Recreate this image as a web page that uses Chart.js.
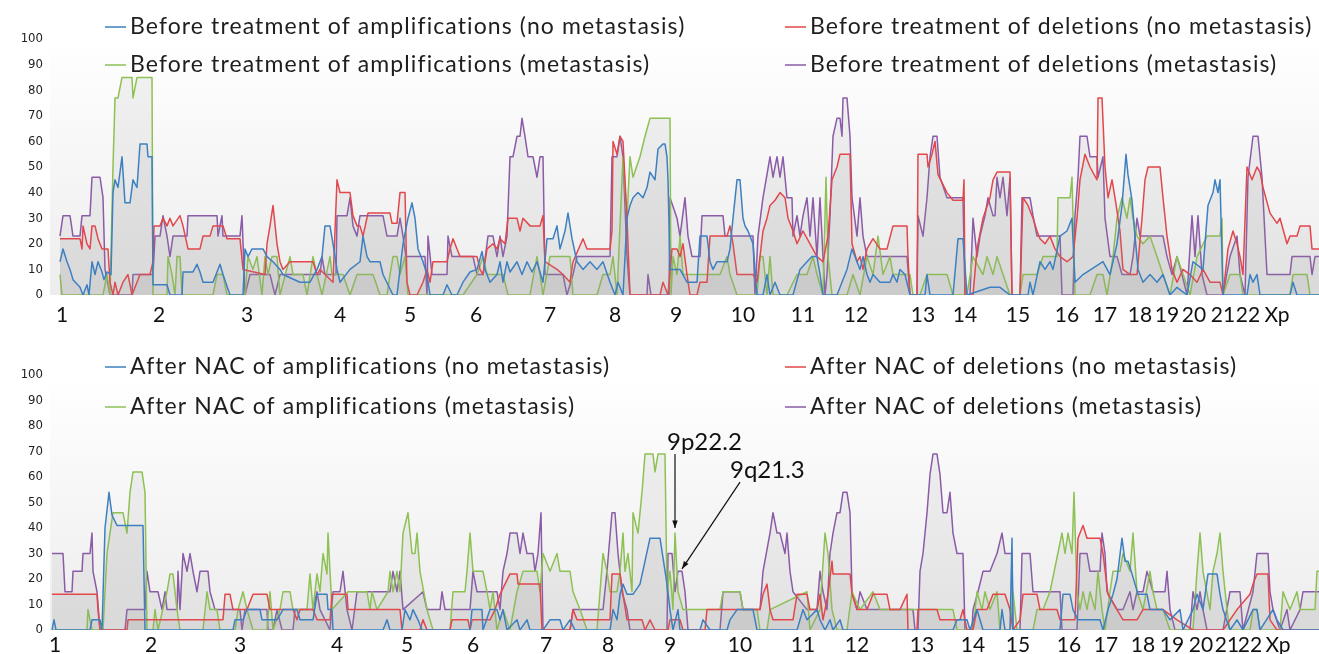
<!DOCTYPE html>
<html>
<head>
<meta charset="utf-8">
<script src="https://cdn.jsdelivr.net/npm/chart.js@4.4.0/dist/chart.umd.min.js"></script>
<style>
  body { margin: 0; width: 1319px; height: 654px; overflow: hidden; background: #fff; }
  .panel { position: absolute; left: 0; width: 1319px; }
</style>
</head>
<body>
<div class="panel" style="top:0;height:327px"><canvas id="before" width="1319" height="327"></canvas></div>
<div class="panel" style="top:327px;height:340px"><canvas id="after" width="1319" height="340"></canvas></div>
<script>
// chromosome labels and where they sit along the genome axis
const chromLabels = ['1','2','3','4','5','6','7','8','9','10','11','12','13','14','15','16','17','18','19','20','21','22','Xp'];
const chromPosBefore = [2,99,187,280,350,416,490,555,616,683,743,796,863,905,958,1007,1045,1080,1107,1134,1163,1188,1217];
const chromPosAfter = [-5,91,180,277,347,413,486,548,610,680,743,797,862,913,958,1009,1046,1083,1112,1141,1167,1190,1218];

const yTicks = [0,10,20,30,40,50,60,70,80,90,100];

// frequency (%) along the genome: [position, value]
const beforeAmpNoMet = [[0,13],[3,18],[7,13],[10,10],[13,6],[20,3],[23,0],[27,4],[29,0],[32,13],[35,8],[38,13],[42,9],[44,6],[47,9],[51,8],[53,40],[55,45],[58,42],[62,54],[65,36],[70,36],[73,45],[77,42],[80,59],[87,59],[88,54],[92,54],[93,4],[107,4],[110,0],[122,0],[123,9],[133,9],[137,12],[140,9],[143,5],[153,5],[157,9],[160,12],[163,8],[170,0],[183,0],[185,18],[188,15],[192,18],[203,18],[207,15],[213,13],[220,10],[223,8],[240,5],[250,5],[257,10],[262,15],[265,27],[270,27],[273,20],[277,10],[280,5],[290,10],[300,13],[303,23],[307,15],[310,13],[320,13],[323,8],[333,0],[337,0],[343,20],[348,30],[352,36],[355,30],[358,18],[363,13],[367,8],[370,0],[383,0],[387,4],[392,0],[397,0],[403,5],[410,9],[417,10],[422,17],[425,10],[430,5],[437,8],[440,13],[443,5],[447,13],[450,9],[457,13],[462,8],[467,13],[472,9],[477,13],[483,5],[487,22],[493,22],[497,27],[500,18],[505,25],[508,32],[512,22],[517,13],[523,10],[530,13],[537,10],[543,13],[550,5],[555,0],[558,5],[563,0],[567,30],[570,35],[573,38],[578,40],[583,38],[587,42],[590,48],[595,45],[598,57],[603,59],[605,59],[607,54],[608,45],[610,10],[620,10],[627,5],[637,5],[640,23],[647,23],[650,13],[653,10],[657,13],[667,13],[670,18],[673,30],[677,45],[680,45],[683,30],[685,27],[688,25],[693,20],[697,0],[703,0],[707,8],[710,0],[715,5],[720,0],[733,0],[740,10],[747,13],[752,15],[757,15],[760,8],[763,0],[777,0],[782,5],[787,10],[792,18],[795,15],[800,10],[803,15],[807,8],[810,5],[813,8],[820,5],[830,5],[833,8],[837,5],[840,10],[845,8],[850,0],[865,0],[867,8],[870,0],[893,0],[898,22],[903,22],[907,0],[930,3],[940,3],[950,0],[968,0],[970,5],[973,0],[980,13],[985,10],[990,13],[993,10],[1000,23],[1007,25],[1012,30],[1015,5],[1023,8],[1043,13],[1050,8],[1057,20],[1062,35],[1066,55],[1068,47],[1072,37],[1075,23],[1078,10],[1083,5],[1090,8],[1097,5],[1103,8],[1110,0],[1117,3],[1127,0],[1133,13],[1143,10],[1148,35],[1153,40],[1155,45],[1158,40],[1160,45],[1163,0],[1187,0],[1190,8],[1193,5],[1197,8],[1200,0],[1230,0],[1233,5],[1237,0],[1259,0]];

const beforeDelNoMet = [[0,22],[20,22],[22,18],[23,27],[27,20],[30,18],[32,27],[35,27],[38,22],[42,18],[48,18],[50,5],[53,0],[55,5],[58,0],[63,5],[68,8],[72,0],[77,5],[80,8],[90,8],[93,13],[94,27],[100,27],[103,30],[107,27],[110,30],[113,27],[120,31],[123,27],[128,18],[140,18],[143,23],[150,23],[153,27],[163,27],[167,22],[180,22],[183,10],[205,8],[207,20],[210,27],[213,35],[217,20],[220,13],[223,10],[230,13],[253,13],[257,8],[260,10],[265,8],[273,5],[277,45],[280,40],[290,40],[293,31],[297,27],[300,27],[303,23],[308,32],[330,32],[332,28],[337,28],[340,40],[345,40],[347,5],[350,0],[357,0],[363,5],[367,10],[370,5],[373,13],[387,13],[390,18],[393,22],[397,18],[400,15],[417,15],[420,10],[423,8],[427,18],[433,20],[437,18],[440,22],[445,20],[448,30],[457,30],[460,25],[463,30],[470,27],[480,27],[483,31],[485,13],[497,10],[503,8],[510,5],[513,13],[523,22],[527,18],[550,18],[552,25],[553,60],[557,55],[560,62],[563,60],[567,30],[570,0],[600,0],[603,5],[608,0],[612,18],[617,18],[620,15],[623,20],[627,8],[630,0],[637,0],[640,5],[647,5],[650,23],[667,23],[670,27],[673,20],[677,8],[693,8],[697,5],[703,25],[707,30],[710,35],[715,37],[720,40],[725,38],[728,30],[733,25],[737,20],[743,25],[750,20],[757,15],[763,13],[768,23],[772,45],[777,50],[780,55],[790,55],[792,20],[797,13],[800,15],[803,10],[807,18],[813,22],[820,18],[827,18],[833,27],[847,27],[848,15],[850,0],[857,0],[858,55],[867,55],[868,50],[872,55],[875,60],[878,47],[887,40],[893,37],[903,37],[904,45],[905,0],[913,0],[917,18],[923,30],[930,38],[933,45],[937,48],[950,48],[952,0],[960,0],[963,38],[968,35],[973,30],[977,25],[980,22],[985,20],[990,23],[995,18],[1000,15],[1007,13],[1013,15],[1017,30],[1020,45],[1025,55],[1030,50],[1037,45],[1038,77],[1042,77],[1045,50],[1048,38],[1052,45],[1055,38],[1060,25],[1063,10],[1070,8],[1077,8],[1082,30],[1085,45],[1088,50],[1100,50],[1103,38],[1107,23],[1112,10],[1117,5],[1123,10],[1130,8],[1137,5],[1143,10],[1150,5],[1160,5],[1163,0],[1168,18],[1173,25],[1177,20],[1180,15],[1183,8],[1187,50],[1192,45],[1197,50],[1200,48],[1203,42],[1210,32],[1217,28],[1220,30],[1227,20],[1230,23],[1237,23],[1240,27],[1250,27],[1252,18],[1259,18]];

const beforeAmpMet = [[0,8],[2,0],[43,0],[47,8],[50,0],[53,50],[55,77],[58,77],[62,85],[72,85],[73,77],[77,85],[92,85],[93,0],[107,0],[108,15],[112,8],[115,0],[117,15],[120,15],[122,0],[153,0],[157,8],[163,8],[167,0],[185,0],[188,15],[193,10],[197,15],[202,0],[205,15],[208,8],[212,15],[217,15],[220,0],[230,15],[233,8],[243,8],[247,0],[253,15],[257,8],[262,0],[270,15],[272,8],[283,8],[290,0],[297,8],[313,8],[320,0],[327,0],[330,8],[333,15],[337,15],[340,8],[345,15],[348,0],[403,0],[417,8],[423,15],[427,8],[443,8],[448,0],[470,0],[477,15],[480,8],[483,0],[490,15],[510,15],[513,0],[537,0],[543,8],[550,8],[553,15],[557,0],[563,54],[567,30],[570,54],[573,46],[580,54],[585,62],[590,69],[610,69],[611,0],[613,15],[617,8],[620,23],[623,8],[660,8],[667,15],[670,8],[677,0],[697,0],[700,15],[703,15],[707,0],[710,15],[713,0],[727,0],[737,8],[747,8],[753,15],[757,8],[763,0],[766,46],[768,15],[772,0],[787,0],[793,8],[800,0],[807,15],[813,8],[818,23],[823,8],[830,15],[833,8],[850,8],[853,0],[860,0],[867,8],[887,8],[893,0],[907,0],[913,15],[923,8],[927,15],[933,8],[937,15],[943,8],[950,0],[960,0],[963,8],[977,8],[983,15],[997,15],[998,38],[1010,38],[1012,46],[1015,0],[1030,0],[1037,8],[1043,8],[1047,0],[1053,15],[1057,30],[1062,38],[1067,30],[1070,38],[1073,30],[1077,23],[1083,20],[1090,23],[1097,15],[1103,8],[1110,0],[1117,15],[1130,0],[1137,15],[1147,23],[1160,23],[1162,30],[1163,0],[1170,8],[1180,8],[1183,0],[1230,0],[1233,8],[1247,8],[1250,0],[1259,0]];

const beforeDelMet = [[0,23],[3,31],[10,31],[13,23],[20,23],[22,31],[30,31],[32,46],[40,46],[43,38],[45,10],[50,0],[72,0],[73,8],[93,8],[95,23],[100,23],[103,31],[107,23],[110,15],[113,23],[127,23],[128,31],[157,31],[158,23],[162,31],[163,23],[180,23],[182,31],[185,0],[190,8],[210,8],[215,0],[220,8],[260,8],[262,15],[265,8],[276,8],[277,31],[287,31],[290,38],[293,27],[297,23],[300,31],[323,31],[327,23],[337,23],[340,30],[343,23],[346,15],[365,15],[367,0],[368,23],[372,8],[387,8],[388,23],[392,15],[413,15],[417,8],[423,8],[428,23],[433,23],[437,15],[440,23],[443,15],[447,23],[450,54],[453,54],[457,62],[460,62],[462,69],[465,62],[468,54],[473,54],[477,46],[480,54],[483,54],[485,8],[503,8],[507,0],[513,8],[517,15],[550,15],[552,54],[557,54],[560,62],[563,54],[567,15],[570,0],[587,0],[588,8],[591,0],[609,0],[610,38],[617,30],[620,23],[625,38],[628,23],[632,15],[640,15],[642,31],[663,31],[665,23],[693,23],[695,0],[698,23],[703,38],[710,54],[713,46],[717,54],[720,46],[723,54],[725,46],[727,38],[732,38],[733,23],[737,31],[740,23],[743,31],[747,38],[750,23],[753,38],[757,15],[760,38],[765,0],[767,8],[770,31],[773,62],[777,69],[780,69],[782,62],[783,77],[787,77],[790,62],[792,38],[797,23],[800,38],[803,23],[807,15],[847,15],[850,0],[857,0],[858,31],[863,23],[867,38],[870,54],[873,62],[877,62],[880,46],[887,38],[903,38],[905,0],[910,0],[913,30],[917,15],[920,23],[925,31],[928,38],[933,31],[935,31],[937,46],[940,38],[943,46],[947,31],[950,46],[952,0],[960,0],[962,38],[970,38],[973,31],[977,23],[1000,23],[1002,0],[1013,0],[1015,31],[1018,46],[1020,62],[1027,62],[1030,54],[1037,54],[1038,46],[1043,54],[1045,30],[1050,15],[1057,15],[1062,8],[1070,8],[1073,15],[1077,30],[1080,23],[1103,23],[1107,15],[1112,8],[1117,15],[1122,8],[1127,0],[1132,31],[1135,15],[1138,31],[1142,8],[1147,0],[1163,0],[1170,15],[1177,23],[1180,8],[1185,0],[1188,46],[1193,62],[1198,62],[1202,46],[1205,23],[1207,8],[1230,8],[1232,15],[1250,15],[1252,8],[1255,15],[1259,15]];

const afterAmpNoMet = [[-8,0],[-6,4],[-4,0],[30,0],[32,4],[40,4],[42,0],[45,40],[49,54],[52,45],[57,41],[83,41],[85,0],[173,0],[175,4],[183,4],[187,8],[200,8],[202,4],[217,4],[223,8],[237,8],[240,4],[253,4],[257,14],[267,14],[268,8],[272,8],[273,0],[323,0],[327,4],[330,0],[342,0],[345,8],[350,4],[353,8],[358,4],[362,0],[410,0],[412,8],[422,8],[423,0],[430,8],[437,8],[440,4],[443,8],[447,0],[457,4],[460,0],[467,4],[470,0],[483,0],[490,4],[500,4],[503,0],[510,4],[515,0],[550,0],[553,8],[557,4],[560,14],[563,18],[567,14],[573,14],[580,18],[585,27],[590,36],[600,36],[607,18],[610,8],[613,0],[618,8],[620,0],[640,0],[643,4],[650,0],[667,0],[670,4],[677,8],[693,8],[697,0],[737,0],[743,8],[747,4],[757,8],[760,4],[765,0],[770,4],[773,0],[780,4],[783,0],[893,0],[897,4],[907,4],[910,0],[917,8],[920,4],[923,0],[940,0],[942,8],[945,0],[950,0],[952,36],[953,0],[1000,0],[1003,14],[1010,14],[1013,8],[1018,4],[1040,4],[1043,0],[1048,8],[1053,14],[1057,20],[1062,36],[1065,27],[1068,27],[1072,22],[1075,18],[1078,14],[1087,14],[1090,8],[1103,8],[1110,4],[1120,8],[1123,0],[1133,8],[1137,14],[1143,8],[1148,22],[1157,22],[1160,14],[1163,8],[1170,0],[1177,4],[1183,0],[1193,8],[1197,8],[1200,0],[1213,8],[1217,4],[1223,0],[1259,0]];

const afterDelNoMet = [[-8,14],[37,14],[38,8],[40,0],[67,0],[68,4],[163,4],[165,14],[170,14],[173,8],[187,8],[193,14],[207,14],[210,8],[233,8],[237,4],[240,8],[253,8],[257,4],[270,4],[272,14],[287,14],[288,8],[340,8],[342,0],[360,0],[363,4],[367,0],[390,0],[392,4],[408,4],[410,0],[412,4],[430,4],[435,8],[440,14],[445,18],[450,22],[457,22],[458,18],[480,18],[482,0],[510,0],[513,8],[517,4],[550,4],[552,22],[560,22],[563,14],[567,4],[582,4],[585,0],[590,4],[595,0],[608,0],[610,4],[620,4],[623,0],[645,0],[647,8],[700,8],[703,14],[707,18],[710,8],[713,4],[733,4],[737,14],[747,14],[750,8],[757,8],[760,14],[763,4],[768,14],[772,27],[773,22],[790,22],[792,14],[797,8],[807,8],[813,14],[827,14],[830,8],[840,8],[847,14],[848,0],[857,0],[858,8],[877,8],[880,4],[900,4],[903,8],[907,0],[913,0],[917,8],[927,8],[933,14],[945,14],[950,8],[953,0],[960,4],[963,14],[977,14],[980,8],[997,8],[1000,4],[1015,4],[1018,36],[1023,41],[1027,36],[1040,36],[1043,30],[1048,14],[1057,8],[1063,4],[1077,4],[1083,8],[1103,8],[1117,4],[1133,0],[1163,0],[1177,8],[1190,14],[1193,18],[1197,22],[1208,22],[1210,4],[1217,0],[1259,0]];

const afterAmpMet = [[-8,0],[27,0],[28,8],[32,0],[43,0],[47,30],[50,38],[53,46],[63,46],[67,38],[70,54],[73,62],[82,62],[85,54],[87,0],[93,0],[95,8],[98,0],[107,15],[110,22],[113,22],[117,8],[120,0],[143,0],[147,15],[150,8],[157,8],[160,0],[175,0],[178,8],[183,15],[187,8],[193,0],[207,0],[210,15],[213,0],[220,8],[223,15],[230,15],[233,8],[247,8],[250,22],[253,8],[257,22],[260,15],[263,30],[267,22],[268,38],[272,8],[288,15],[307,15],[310,8],[312,15],[317,8],[328,15],[330,23],[333,15],[337,23],[340,15],[343,38],[348,46],[352,30],[355,30],[357,38],[360,23],[367,8],[373,0],[390,0],[393,15],[405,15],[407,23],[410,38],[413,23],[423,23],[427,15],[430,8],[433,15],[437,0],[443,8],[450,0],[457,15],[463,23],[477,23],[480,15],[483,30],[490,23],[497,30],[500,23],[510,23],[513,15],[520,8],[527,0],[537,0],[543,30],[547,23],[550,15],[557,15],[560,23],[563,38],[565,23],[568,30],[572,15],[573,46],[578,38],[582,54],[585,69],[593,69],[595,62],[598,69],[605,69],[607,15],[610,23],[613,8],[615,38],[618,15],[623,8],[660,8],[663,15],[680,15],[683,8],[697,8],[700,0],[707,0],[710,8],[747,15],[750,0],[760,8],[765,38],[768,30],[772,8],[777,0],[787,0],[792,15],[800,8],[813,15],[820,8],[893,8],[897,0],[913,0],[917,15],[922,8],[925,15],[930,8],[937,15],[940,0],[950,0],[953,15],[957,0],[973,0],[977,8],[983,8],[990,15],[1002,38],[1005,30],[1008,38],[1012,30],[1014,54],[1017,15],[1020,8],[1023,15],[1027,8],[1030,15],[1035,8],[1038,23],[1042,8],[1045,0],[1050,15],[1053,23],[1060,23],[1063,30],[1070,23],[1073,38],[1077,15],[1083,8],[1090,23],[1093,15],[1097,8],[1103,8],[1110,0],[1133,0],[1137,23],[1140,38],[1143,23],[1150,8],[1153,23],[1157,30],[1160,38],[1163,23],[1167,8],[1170,0],[1190,0],[1193,8],[1197,8],[1200,0],[1220,0],[1223,15],[1230,8],[1237,15],[1240,8],[1255,8],[1257,23],[1259,23]];

const afterDelMet = [[-8,30],[3,30],[5,15],[12,15],[13,23],[22,23],[23,30],[30,30],[32,38],[33,23],[37,15],[40,0],[65,0],[67,8],[85,8],[87,23],[90,15],[98,15],[102,8],[105,15],[107,8],[117,8],[118,23],[120,8],[123,30],[127,23],[130,30],[133,23],[137,15],[140,23],[148,23],[150,15],[155,8],[180,8],[182,0],[185,8],[207,8],[208,0],[213,0],[217,8],[222,0],[233,0],[235,8],[253,8],[257,15],[260,8],[270,0],[273,15],[280,15],[283,23],[287,8],[292,0],[297,15],[330,15],[333,23],[337,15],[340,23],[343,8],[363,15],[367,8],[380,8],[382,15],[385,8],[410,8],[413,23],[417,15],[437,15],[440,8],[443,23],[447,30],[450,38],[457,38],[460,30],[463,38],[467,30],[473,30],[475,23],[478,30],[481,46],[483,0],[510,0],[513,8],[543,8],[547,23],[552,46],[555,46],[558,30],[562,15],[567,8],[570,0],[607,0],[608,30],[612,30],[615,15],[618,23],[622,23],[625,15],[628,0],[660,0],[663,15],[680,15],[683,8],[700,8],[703,23],[710,38],[713,46],[717,38],[720,38],[725,30],[727,38],[730,23],[733,15],[747,8],[757,8],[760,23],[763,15],[767,8],[770,30],[773,38],[777,46],[780,46],[783,54],[787,54],[790,46],[792,15],[797,8],[800,15],[807,8],[853,8],[855,0],[858,0],[860,23],[863,30],[867,46],[870,61],[873,69],[877,69],[880,61],[883,46],[887,46],[890,54],[893,38],[897,30],[903,30],[905,0],[912,0],[913,8],[918,15],[923,23],[930,23],[937,30],[942,38],[945,30],[952,30],[953,0],[960,0],[962,30],[970,30],[973,15],[1000,15],[1002,0],[1017,0],[1020,30],[1027,30],[1030,23],[1040,23],[1042,38],[1045,30],[1047,15],[1057,8],[1063,8],[1070,15],[1073,8],[1077,15],[1083,15],[1087,23],[1093,15],[1105,15],[1107,23],[1110,8],[1115,0],[1130,0],[1133,15],[1137,8],[1140,15],[1143,8],[1147,0],[1163,0],[1170,15],[1180,15],[1183,0],[1193,15],[1197,30],[1208,30],[1210,15],[1213,8],[1220,0],[1227,8],[1230,0],[1240,8],[1243,15],[1259,15]];

const seriesColors = ['#3d80c1', '#e2474c', '#8dc153', '#8b5ba8'];

// marked cytobands on the second panel: label spot and arrow tip in data units
const bandNotes = [
    { text: '9p22.2', at: [607, 70.6], from: [615, 69], to: [615, 40] },
    { text: '9q21.3', at: [670, 59.6], from: [680, 58], to: [622, 24] }
];

const toXY = arr => arr.map(([x, y]) => ({ x, y }));

// plot-area background, light grey towards the bottom
const plotBackground = {
    id: 'plotBackground',
    beforeDraw(chart) {
        const { ctx, chartArea: a } = chart;
        const g = ctx.createLinearGradient(0, a.top, 0, a.bottom);
        g.addColorStop(0, '#ffffff');
        g.addColorStop(1, '#ededed');
        ctx.save();
        ctx.fillStyle = g;
        ctx.fillRect(a.left, a.top, a.right - a.left, a.bottom - a.top);
        ctx.restore();
    }
};

// two-column legend drawn over the top of the plot
const cornerLegend = {
    id: 'cornerLegend',
    afterDatasetsDraw(chart, args, opts) {
        const { ctx } = chart;
        ctx.save();
        ctx.font = opts.font;
        ctx.letterSpacing = opts.spacing;
        ctx.textBaseline = 'middle';
        chart.data.datasets.forEach((ds, i) => {
            const [x, y] = opts.slots[i];
            ctx.strokeStyle = ds.borderColor;
            ctx.lineWidth = 1.5;
            ctx.beginPath();
            ctx.moveTo(x, y);
            ctx.lineTo(x + 21, y);
            ctx.stroke();
            ctx.fillStyle = '#1e1e1e';
            ctx.fillText(ds.label, x + 25, y);
        });
        ctx.restore();
    }
};

// arrows pointing at cytobands
const bandArrows = {
    id: 'bandArrows',
    afterDatasetsDraw(chart, args, opts) {
        const items = opts.items || [];
        if (!items.length) return;
        const { ctx, scales: { x, y } } = chart;
        ctx.save();
        ctx.font = '24px Lato';
        ctx.fillStyle = '#111';
        ctx.strokeStyle = '#111';
        ctx.lineWidth = 1.2;
        items.forEach(n => {
            ctx.fillText(n.text, x.getPixelForValue(n.at[0]), y.getPixelForValue(n.at[1]));
            const x1 = x.getPixelForValue(n.from[0]), y1 = y.getPixelForValue(n.from[1]);
            const x2 = x.getPixelForValue(n.to[0]), y2 = y.getPixelForValue(n.to[1]);
            ctx.beginPath();
            ctx.moveTo(x1, y1);
            ctx.lineTo(x2, y2);
            ctx.stroke();
            const ang = Math.atan2(y2 - y1, x2 - x1);
            ctx.beginPath();
            ctx.moveTo(x2, y2);
            ctx.lineTo(x2 - 8 * Math.cos(ang - 0.35), y2 - 8 * Math.sin(ang - 0.35));
            ctx.lineTo(x2 - 8 * Math.cos(ang + 0.35), y2 - 8 * Math.sin(ang + 0.35));
            ctx.closePath();
            ctx.fill();
        });
        ctx.restore();
    }
};

function makePanel(id, names, series, chromPos, layout) {
    const ctx = document.getElementById(id).getContext('2d');
    return new Chart(ctx, {
        type: 'line',
        data: {
            datasets: series.map((s, i) => ({
                label: names[i],
                data: toXY(s),
                borderColor: seriesColors[i],
                borderWidth: 1.5,
                borderJoinStyle: 'round',
                backgroundColor: 'rgba(150,150,150,0.11)',
                fill: 'origin',
                pointRadius: 0,
                tension: 0
            }))
        },
        options: {
            responsive: false,
            animation: false,
            events: [],
            layout: { padding: { top: layout.padTop, right: 0, bottom: 0, left: 0 } },
            plugins: {
                legend: { display: false },
                tooltip: { enabled: false },
                cornerLegend: { font: '23px Lato', spacing: '1.1px', slots: layout.legendSlots },
                bandArrows: { items: layout.notes || [] }
            },
            scales: {
                x: {
                    type: 'linear',
                    min: -10,
                    max: 1259,
                    grid: { display: false, drawTicks: false },
                    border: { display: false },
                    afterBuildTicks: scale => { scale.ticks = chromPos.map(v => ({ value: v })); },
                    afterFit: scale => { scale.height = layout.axisH; },
                    ticks: {
                        autoSkip: false,
                        maxRotation: 0,
                        padding: layout.tickPad,
                        color: '#111',
                        font: { family: 'Lato', size: 21 },
                        callback: (value, i) => chromLabels[i]
                    }
                },
                y: {
                    min: 0,
                    max: 100,
                    grid: { display: false, drawTicks: false },
                    border: { display: false },
                    afterBuildTicks: scale => { scale.ticks = yTicks.map(v => ({ value: v })); },
                    afterFit: scale => { scale.width = 50; },
                    ticks: {
                        padding: 7,
                        color: '#222',
                        font: { family: "'Liberation Sans Narrow', 'DejaVu Sans Condensed', sans-serif", size: 13 }
                    }
                }
            }
        },
        plugins: [plotBackground, cornerLegend, bandArrows]
    });
}

makePanel('before',
    ['Before treatment of amplifications (no metastasis)', 'Before treatment of deletions (no metastasis)',
     'Before treatment of amplifications (metastasis)', 'Before treatment of deletions (metastasis)'],
    [beforeAmpNoMet, beforeDelNoMet, beforeAmpMet, beforeDelMet],
    chromPosBefore,
    { padTop: 39, axisH: 32, tickPad: 8, legendSlots: [[105, 27], [785, 27], [105, 65], [785, 65]] });

makePanel('after',
    ['After NAC of amplifications (no metastasis)', 'After NAC of deletions (no metastasis)',
     'After NAC of amplifications (metastasis)', 'After NAC of deletions (metastasis)'],
    [afterAmpNoMet, afterDelNoMet, afterAmpMet, afterDelMet],
    chromPosAfter,
    { padTop: 48, axisH: 37, tickPad: 3, legendSlots: [[105, 40], [785, 40], [105, 80], [785, 80]], notes: bandNotes });
</script>
</body>
</html>
